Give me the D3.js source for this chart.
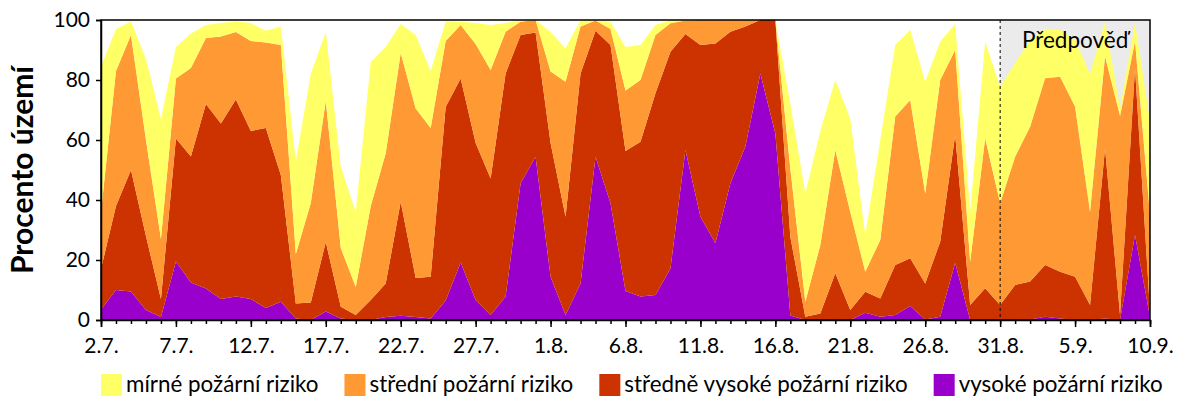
<!DOCTYPE html>
<html>
<head>
<meta charset="utf-8">
<script src="https://cdn.jsdelivr.net/npm/d3@7"></script>
<style>
    body { margin: 0; background: #fff; }
    svg text { font-family: Lato, "Open Sans", sans-serif; fill: #000; }
</style>
</head>
<body>
<svg id="chart" width="1200" height="400"></svg>
<script>
// Sledované období 2.7. - 10.9., předpověď od 31.8.
var firstDay = new Date(2019, 6, 2);
var lastDay = new Date(2019, 8, 10);
var forecastFrom = new Date(2019, 7, 31);

var tickLabels = ['2.7.', '7.7.', '12.7.', '17.7.', '22.7.', '27.7.', '1.8.', '6.8.',
    '11.8.', '16.8.', '21.8.', '26.8.', '31.8.', '5.9.', '10.9.'];

// Procento území v dané kategorii rizika, jedna hodnota na den
var vysoke = [3.5, 10, 9.5, 3.3, 1, 19.5, 12.5, 10.5, 7, 7.8,
    7, 4, 6.1, 0.5, 0, 2.8, 0.5, 0, 0, 1,
    1.4, 1, 0.5, 6.5, 19.2, 6.7, 1.7, 7.8, 45.6, 54.4,
    14.4, 1.7, 12.2, 54.4, 38.9, 9.7, 7.8, 8.3, 17.2, 56.7,
    34.4, 25.6, 45.6, 57.8, 82.2, 62.2, 1.5, 0, 0, 0.2,
    0, 2.4, 1.1, 1.7, 4.7, 0.2, 1.1, 19.1, 0, 0,
    0, 0, 0.2, 1.1, 0.5, 0, 0, 0.5, 0, 28.3,
    1];
var stredneVysoke = [13.5, 28, 40.5, 24.7, 6, 41, 42, 61.5, 58.5, 65.7,
    56, 60, 42.2, 5, 5.8, 23.2, 3.9, 1.7, 6.7, 11.2,
    38, 13, 13.9, 64.5, 61.3, 52.3, 45.5, 74.4, 49.4, 41.4,
    44.6, 32.7, 70, 42, 52.8, 46.6, 51.6, 67.3, 72.2, 38.6,
    57.3, 66.6, 50.5, 40, 17.8, 37.8, 26.2, 1.1, 2.2, 15.4,
    3.3, 7, 6.1, 16.6, 15.9, 12, 25, 42.6, 5, 10.6,
    5, 11.7, 12.6, 17.2, 15.6, 14.4, 5, 56.7, 1.7, 55.6,
    2];
var stredni = [19, 45, 45, 32, 20, 20, 29.5, 22, 29, 22.5,
    30, 28.5, 43.4, 16.5, 33.2, 47, 19.6, 9.3, 31.3, 43.4,
    49.6, 56.5, 49.6, 22, 17.8, 33, 36.1, 13.9, 4.4, 4.2,
    23.8, 45, 15.6, 3.4, 5.3, 20.2, 20.6, 19.4, 9.5, 4.5,
    8.3, 7.8, 3.9, 2.2, 0, 0, 22.7, 5, 22.8, 41.1,
    32.7, 6.7, 19.5, 49.5, 52.7, 30, 53.9, 28.3, 14.4, 50,
    33.9, 42.7, 51.6, 62.3, 65, 56.7, 31, 30.6, 66.3, 8.9,
    32];
var mirne = [48.5, 14, 4.5, 27, 40, 10.5, 11.5, 4.3, 4.5, 3.5,
    6, 3.9, 6.1, 31, 43, 23, 27, 25, 48, 35.4,
    9.7, 24.5, 19, 6.5, 1.1, 7, 15, 2.9, 0.4, 0,
    13.2, 11.2, 2, 0.2, 2.4, 14.5, 11.7, 3.3, 1.1, 0.2,
    0, 0, 0, 0, 0, 0, 21.6, 36.1, 38, 23.3,
    31, 12.2, 33.3, 23.9, 23.4, 37.2, 12.8, 8.7, 16.6, 32.2,
    38.9, 31.2, 28.9, 16.3, 15.6, 22.2, 46, 11.6, 2.6, 6.2,
    31];

// pořadí odspodu nahoru
var seriesKeys = ['vysoke', 'stredneVysoke', 'stredni', 'mirne'];
var seriesNames = {
    mirne: 'mírné požární riziko',
    stredni: 'střední požární riziko',
    stredneVysoke: 'středně vysoké požární riziko',
    vysoke: 'vysoké požární riziko'
};
var seriesColors = {
    mirne: '#FFFF66',
    stredni: '#FF9933',
    stredneVysoke: '#CC3300',
    vysoke: '#9900CC'
};

var margin = {top: 20, right: 50, bottom: 80, left: 101};
var width = 1200 - margin.left - margin.right;
var height = 400 - margin.top - margin.bottom;

var days = d3.timeDay.range(firstDay, d3.timeDay.offset(lastDay, 1));
var rows = days.map(function (d, i) {
    return {
        date: d,
        vysoke: vysoke[i],
        stredneVysoke: stredneVysoke[i],
        stredni: stredni[i],
        mirne: mirne[i]
    };
});

var x = d3.scaleTime().domain([firstDay, lastDay]).range([0, width]);
var y = d3.scaleLinear().domain([0, 100]).range([height, 0]);

var svg = d3.select('#chart');
var g = svg.append('g').attr('transform', 'translate(' + margin.left + ',' + margin.top + ')');

// šedé pozadí oblasti předpovědi
g.append('rect')
    .attr('x', x(forecastFrom))
    .attr('y', 0)
    .attr('width', width - x(forecastFrom))
    .attr('height', height)
    .attr('fill', '#EBEBEB');

var stacked = d3.stack().keys(seriesKeys)(rows);

var area = d3.area()
    .x(function (d) { return x(d.data.date); })
    .y0(function (d) { return y(d[0]); })
    .y1(function (d) { return y(d[1]); });

g.selectAll('.layer')
    .data(stacked)
    .enter().append('path')
    .attr('class', 'layer')
    .attr('fill', function (d) { return seriesColors[d.key]; })
    .attr('d', area);

// hranice předpovědi
g.append('line')
    .attr('x1', x(forecastFrom))
    .attr('x2', x(forecastFrom))
    .attr('y1', 0)
    .attr('y2', height)
    .attr('stroke', '#000')
    .attr('stroke-width', 1)
    .attr('stroke-dasharray', '3,3');

g.append('text')
    .attr('x', (x(forecastFrom) + width) / 2)
    .attr('y', 28)
    .attr('text-anchor', 'middle')
    .style('font-size', '22.5px')
    .text('Předpověď');

// rámeček grafu
g.append('rect')
    .attr('x', 0)
    .attr('y', 0)
    .attr('width', width)
    .attr('height', height)
    .attr('fill', 'none')
    .attr('stroke', '#000')
    .attr('stroke-width', 1.5);

// osa Y
var yAxis = g.append('g')
    .call(d3.axisLeft(y).tickValues([0, 20, 40, 60, 80, 100]).tickSize(5).tickPadding(6));
yAxis.selectAll('text').style('font-size', '21px');

// osa X - vedlejší značky po dnech, hlavní po pěti dnech
g.append('g')
    .attr('transform', 'translate(0,' + height + ')')
    .call(d3.axisBottom(x).tickValues(days).tickSize(4).tickFormat(''))
    .call(function (a) { a.select('.domain').remove(); });

var majorDays = days.filter(function (d, i) { return i % 5 === 0; });
var xAxis = g.append('g')
    .attr('transform', 'translate(0,' + height + ')')
    .call(d3.axisBottom(x).tickValues(majorDays).tickSize(7)
        .tickFormat(function (d, i) { return tickLabels[i]; }));
xAxis.selectAll('text')
    .style('font-size', '21px')
    .attr('y', 33)
    .attr('dy', 0);

svg.selectAll('.domain, .tick line').attr('stroke', '#000').attr('stroke-width', 1.5);

// popisek osy Y
svg.append('text')
    .attr('transform', 'translate(33,' + (margin.top + height / 2) + ') rotate(-90)')
    .attr('text-anchor', 'middle')
    .style('font-size', '30px')
    .style('font-weight', 'bold')
    .text('Procento území');

// legenda
var legendKeys = ['mirne', 'stredni', 'stredneVysoke', 'vysoke'];
var lx = 101;
legendKeys.forEach(function (k) {
    var item = svg.append('g').attr('transform', 'translate(' + lx + ',374)');
    item.append('rect')
        .attr('width', 21)
        .attr('height', 22)
        .attr('fill', seriesColors[k]);
    var t = item.append('text')
        .attr('x', 25)
        .attr('y', 18)
        .style('font-size', '22.4px')
        .text(seriesNames[k]);
    lx += 25 + t.node().getComputedTextLength() + 26;
});
</script>
</body>
</html>
